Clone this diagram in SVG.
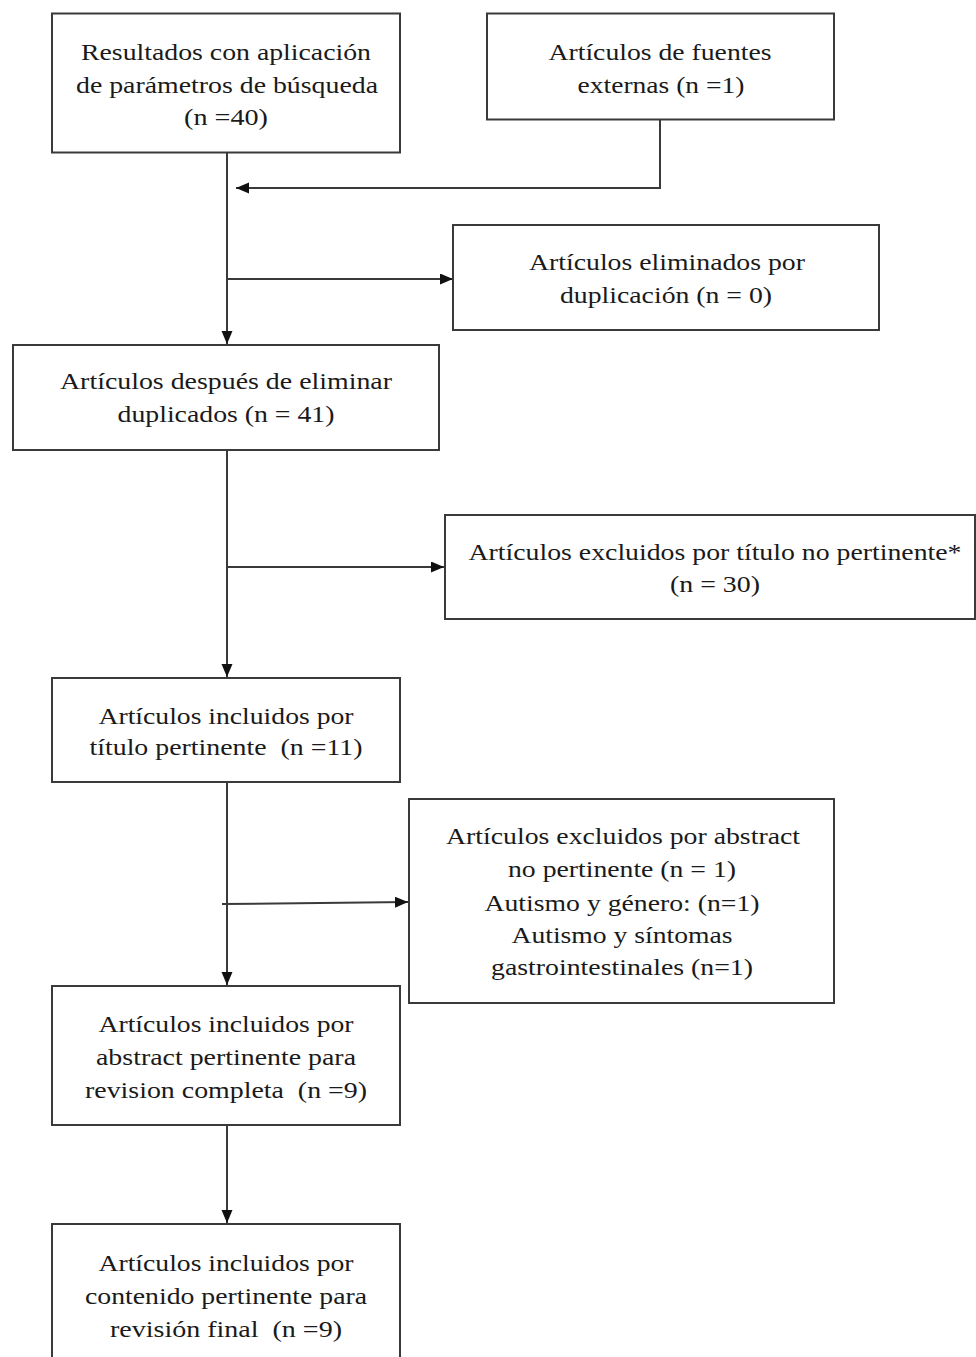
<svg xmlns="http://www.w3.org/2000/svg" width="976" height="1357" viewBox="0 0 976 1357">
<style>
.box{fill:#fff;stroke:#3a3a3a;stroke-width:2}
.t{font-family:"Liberation Serif","Times New Roman",serif;font-size:24px;fill:#1a1a1a;text-anchor:middle;white-space:pre}
.c{fill:none;stroke:#3a3a3a;stroke-width:2}
</style>
<defs>
<marker id="ah" markerUnits="userSpaceOnUse" markerWidth="14" markerHeight="12" refX="13" refY="5.5" orient="auto">
<path d="M0,0 L13,5.5 L0,11 z" fill="#111"/>
</marker>
</defs>
<rect width="976" height="1357" fill="#fff"/>
<g id="connectors">
<path class="c" d="M227,152 V344" marker-end="url(#ah)"/>
<path class="c" d="M660,120 V188 H236" marker-end="url(#ah)"/>
<path class="c" d="M227,279 H453" marker-end="url(#ah)"/>
<path class="c" d="M227,450 V677" marker-end="url(#ah)"/>
<path class="c" d="M227,567 H444" marker-end="url(#ah)"/>
<path class="c" d="M227,782 V985" marker-end="url(#ah)"/>
<path class="c" d="M222,904 L408,902" marker-end="url(#ah)"/>
<path class="c" d="M227,1125 V1223" marker-end="url(#ah)"/>
</g>
<g id="n1">
<rect class="box" x="52" y="13.5" width="348" height="139"/>
<text class="t" x="226" y="60" textLength="290" lengthAdjust="spacingAndGlyphs">Resultados con aplicación</text>
<text class="t" x="227" y="92.5" textLength="302" lengthAdjust="spacingAndGlyphs">de parámetros de búsqueda</text>
<text class="t" x="226" y="125" textLength="84" lengthAdjust="spacingAndGlyphs">(n =40)</text>
</g>
<g id="n2">
<rect class="box" x="487" y="13.5" width="347" height="106"/>
<text class="t" x="660" y="60" textLength="223" lengthAdjust="spacingAndGlyphs">Artículos de fuentes</text>
<text class="t" x="661" y="92.5" textLength="167" lengthAdjust="spacingAndGlyphs">externas (n =1)</text>
</g>
<g id="n3">
<rect class="box" x="453" y="225" width="426" height="105"/>
<text class="t" x="667" y="270" textLength="276" lengthAdjust="spacingAndGlyphs">Artículos eliminados por</text>
<text class="t" x="666" y="303" textLength="212" lengthAdjust="spacingAndGlyphs">duplicación (n = 0)</text>
</g>
<g id="n4">
<rect class="box" x="13" y="345" width="426" height="105"/>
<text class="t" x="226" y="389" textLength="332" lengthAdjust="spacingAndGlyphs">Artículos después de eliminar</text>
<text class="t" x="226" y="422" textLength="217" lengthAdjust="spacingAndGlyphs">duplicados (n = 41)</text>
</g>
<g id="n5">
<rect class="box" x="445" y="515" width="530" height="104"/>
<text class="t" x="715" y="560" textLength="493" lengthAdjust="spacingAndGlyphs">Artículos excluidos por título no pertinente*</text>
<text class="t" x="715" y="592" textLength="90" lengthAdjust="spacingAndGlyphs">(n = 30)</text>
</g>
<g id="n6">
<rect class="box" x="52" y="678" width="348" height="104"/>
<text class="t" x="226" y="724" textLength="255" lengthAdjust="spacingAndGlyphs">Artículos incluidos por</text>
<text class="t" x="226" y="755" textLength="273" lengthAdjust="spacingAndGlyphs">título pertinente  (n =11)</text>
</g>
<g id="n7">
<rect class="box" x="409" y="799" width="425" height="204"/>
<text class="t" x="623" y="844" textLength="354" lengthAdjust="spacingAndGlyphs">Artículos excluidos por abstract</text>
<text class="t" x="622" y="877" textLength="228" lengthAdjust="spacingAndGlyphs">no pertinente (n = 1)</text>
<text class="t" x="622" y="911" textLength="275" lengthAdjust="spacingAndGlyphs">Autismo y género: (n=1)</text>
<text class="t" x="622" y="943" textLength="221" lengthAdjust="spacingAndGlyphs">Autismo y síntomas</text>
<text class="t" x="622" y="975" textLength="262" lengthAdjust="spacingAndGlyphs">gastrointestinales (n=1)</text>
</g>
<g id="n8">
<rect class="box" x="52" y="986" width="348" height="139"/>
<text class="t" x="226" y="1032" textLength="255" lengthAdjust="spacingAndGlyphs">Artículos incluidos por</text>
<text class="t" x="226" y="1065" textLength="260" lengthAdjust="spacingAndGlyphs">abstract pertinente para</text>
<text class="t" x="226" y="1098" textLength="282" lengthAdjust="spacingAndGlyphs">revision completa  (n =9)</text>
</g>
<g id="n9">
<rect class="box" x="52" y="1224" width="348" height="150"/>
<text class="t" x="226" y="1271" textLength="255" lengthAdjust="spacingAndGlyphs">Artículos incluidos por</text>
<text class="t" x="226" y="1304" textLength="282" lengthAdjust="spacingAndGlyphs">contenido pertinente para</text>
<text class="t" x="226" y="1337" textLength="232" lengthAdjust="spacingAndGlyphs">revisión final  (n =9)</text>
</g>
</svg>
